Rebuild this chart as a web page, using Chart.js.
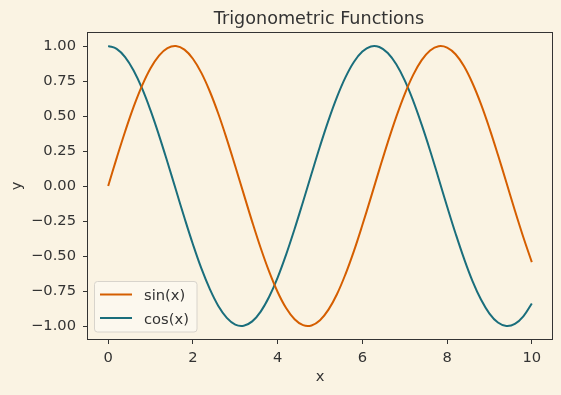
<!DOCTYPE html>
<html><head><meta charset="utf-8">
<script src="https://cdn.jsdelivr.net/npm/chart.js@4/dist/chart.umd.min.js"></script>
<style>html,body{margin:0;padding:0;background:#faf3e3;}#wrap{width:561px;height:395px;}</style>
</head><body><div id="wrap"><canvas id="c" width="561" height="395"></canvas></div>
<script>
const xValues = [0,0.2,0.4,0.6,0.8,1.0,1.2,1.4,1.6,1.8,2.0,2.2,2.4,2.6,2.8,3.0,3.2,3.4,3.6,3.8,4.0,4.2,4.4,4.6,4.8,5.0,5.2,5.4,5.6,5.8,6.0,6.2,6.4,6.6,6.8,7.0,7.2,7.4,7.6,7.8,8.0,8.2,8.4,8.6,8.8,9.0,9.2,9.4,9.6,9.8,10.0];
const sinValues = [0,0.199,0.389,0.565,0.717,0.841,0.932,0.985,1.000,0.974,0.909,0.808,0.675,0.516,0.335,0.141,-0.058,-0.256,-0.443,-0.612,-0.757,-0.872,-0.952,-0.994,-0.996,-0.959,-0.883,-0.773,-0.631,-0.465,-0.279,-0.083,0.117,0.312,0.494,0.657,0.794,0.899,0.968,0.999,0.989,0.941,0.855,0.734,0.585,0.412,0.223,0.025,-0.175,-0.366,-0.544];
const cosValues = [1,0.980,0.921,0.825,0.697,0.540,0.362,0.170,-0.029,-0.227,-0.416,-0.589,-0.737,-0.857,-0.942,-0.990,-0.998,-0.967,-0.897,-0.791,-0.654,-0.490,-0.307,-0.112,0.087,0.284,0.469,0.635,0.776,0.886,0.960,0.997,0.993,0.950,0.869,0.754,0.608,0.438,0.252,0.054,-0.146,-0.339,-0.519,-0.679,-0.811,-0.911,-0.975,-1.000,-0.985,-0.931,-0.839];
const seriesNames = ['sin(x)','cos(x)'];
const xTicks = [0,2,4,6,8,10];
const yTicks = [-1.00,-0.75,-0.50,-0.25,0.00,0.25,0.50,0.75,1.00];
const chartTitle = 'Trigonometric Functions';

const BG = '#faf3e3', INK = '#333333';
const COLORS = ['#d55e00','#1a6e7c'];
const FONT = 'DejaVu Sans';
const FS = 14.7, TFS = 17.6;

const toPts = ys => xValues.map((x,i)=>({x:x,y:ys[i]}));

const framePlugin = {
  id:'frame',
  beforeDraw(chart){
    const ctx=chart.ctx; ctx.save(); ctx.fillStyle=BG; ctx.fillRect(0,0,chart.width,chart.height); ctx.restore();
  },
  afterDatasetsDraw(chart){
    const a=chart.chartArea, ctx=chart.ctx;
    ctx.save();
    // title centred over the axes
    ctx.fillStyle=INK; ctx.font=TFS+'px "'+FONT+'"'; ctx.textAlign='center'; ctx.textBaseline='alphabetic';
    ctx.fillText(chartTitle,(a.left+a.right)/2-1,24);
    ctx.strokeStyle=INK; ctx.lineWidth=1;
    ctx.strokeRect(Math.round(a.left)+0.5,Math.round(a.top)+0.5,Math.round(a.right-a.left)-1,Math.round(a.bottom-a.top)-1);
    // legend
    const lx=94.5, ly=281.5, lw=102.5, lh=50.5, r=3;
    ctx.beginPath();
    ctx.moveTo(lx+r,ly); ctx.lineTo(lx+lw-r,ly); ctx.quadraticCurveTo(lx+lw,ly,lx+lw,ly+r);
    ctx.lineTo(lx+lw,ly+lh-r); ctx.quadraticCurveTo(lx+lw,ly+lh,lx+lw-r,ly+lh);
    ctx.lineTo(lx+r,ly+lh); ctx.quadraticCurveTo(lx,ly+lh,lx,ly+lh-r);
    ctx.lineTo(lx,ly+r); ctx.quadraticCurveTo(lx,ly,lx+r,ly); ctx.closePath();
    ctx.fillStyle='rgba(252,248,240,0.85)'; ctx.fill();
    ctx.strokeStyle='#d8d4cc'; ctx.lineWidth=1; ctx.stroke();
    const lines=[294.5,318], texts=[296.5,320];
    chart.data.datasets.forEach((ds,i)=>{
      ctx.beginPath(); ctx.moveTo(100,lines[i]); ctx.lineTo(132,lines[i]);
      ctx.strokeStyle=ds.borderColor; ctx.lineWidth=2; ctx.stroke();
      ctx.fillStyle=INK; ctx.font=FS+'px "'+FONT+'"'; ctx.textBaseline='middle'; ctx.textAlign='left';
      ctx.fillText(ds.label,144,texts[i]);
    });
    ctx.restore();
  }
};

const fmtY = v => { if (Math.abs(v)<1e-9) return '0.00'; return (v<0?'\u2212':'')+Math.abs(v).toFixed(2); };

new Chart(document.getElementById('c'),{
  type:'scatter',
  data:{datasets:[
    {label:seriesNames[0],data:toPts(sinValues),borderColor:COLORS[0],backgroundColor:COLORS[0],showLine:true,pointRadius:0,borderWidth:2,tension:0.4},
    {label:seriesNames[1],data:toPts(cosValues),borderColor:COLORS[1],backgroundColor:COLORS[1],showLine:true,pointRadius:0,borderWidth:2,tension:0.4}
  ]},
  options:{
    responsive:false, animation:false, devicePixelRatio:1,
    layout:{padding:{left:0,right:8,top:32,bottom:0}},
    plugins:{
      legend:{display:false}, tooltip:{enabled:false}, title:{display:false}
    },
    scales:{
      x:{type:'linear',min:-0.5,max:10.5,
        afterFit(s){s.height=55;},
        afterBuildTicks(s){s.ticks=xTicks.map(v=>({value:v}));},
        ticks:{color:INK,font:{family:FONT,size:FS},padding:5,maxRotation:0,callback:v=>String(v)},
        grid:{display:true,drawOnChartArea:false,drawTicks:true,tickLength:4,tickColor:INK},
        border:{display:false},
        title:{display:true,text:'x',color:INK,font:{family:FONT,size:FS},padding:{top:0,bottom:9}}
      },
      y:{type:'linear',min:-1.1,max:1.1,
        afterFit(s){s.width=87;},
        afterBuildTicks(s){s.ticks=yTicks.map(v=>({value:v}));},
        ticks:{color:INK,font:{family:FONT,size:FS},padding:7,callback:fmtY},
        grid:{display:true,drawOnChartArea:false,drawTicks:true,tickLength:4,tickColor:INK},
        border:{display:false},
        title:{display:true,text:'y',color:INK,font:{family:FONT,size:FS},padding:{top:8,bottom:0}}
      }
    }
  },
  plugins:[framePlugin]
});
</script></body></html>
